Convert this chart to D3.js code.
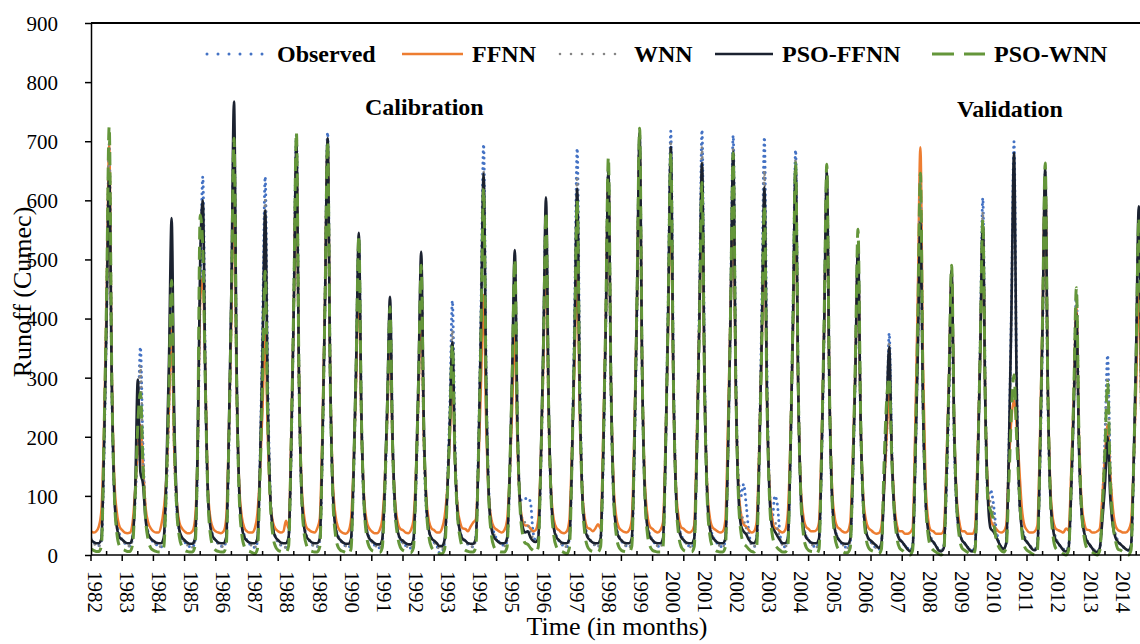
<!DOCTYPE html>
<meta charset="utf-8">
<style>
    body { margin: 0; background: #fff; }
    svg { display: block; }
    svg text { font-family: "Liberation Serif", "Times New Roman", "DejaVu Serif", serif; fill: #000; }
    .axis text { font-size: 21px; }
    .axis path, .axis line { stroke: #000; stroke-width: 1.5px; }
    .legend text, .note { font-size: 24px; font-weight: 700; }
</style>
<script src="https://d3js.org/d3.v7.min.js"></script>
<div id="chart"></div>
<script>

    // tick labels
    var yearLabels = ["1982","1983","1984","1985","1986","1987","1988","1989","1990","1991","1992",
        "1993","1994","1995","1996","1997","1998","1999","2000","2001","2002","2003","2004",
        "2005","2006","2007","2008","2009","2010","2011","2012","2013","2014"];
    var yTicks = [0, 100, 200, 300, 400, 500, 600, 700, 800, 900];

    // monthly runoff, one row per year (Jan..Dec), Jan 1982 - Sep 2015
    var observed = [
        [28,22,18,16,22,170,410,690,290,105,55,35],
        [26,20,16,15,30,95,200,352,180,70,38,27],
        [22,18,15,14,25,110,260,420,190,75,40,28],
        [22,17,14,13,24,160,450,640,300,100,50,32],
        [24,19,15,14,26,180,430,710,300,110,52,33],
        [25,19,15,13,22,160,390,640,290,100,48,30],
        [22,17,14,13,28,175,430,710,300,105,50,32],
        [24,18,15,14,24,180,430,715,310,110,52,33],
        [25,19,15,13,22,135,320,530,230,85,45,30],
        [22,17,14,12,22,105,250,420,185,70,38,27],
        [20,16,13,12,20,120,285,470,200,75,40,28],
        [21,16,4,6,22,110,250,430,185,72,40,28],
        [24,18,15,14,30,175,420,695,300,110,55,38],
        [28,22,18,16,24,120,290,480,220,95,92,95],
        [96,90,40,25,30,145,345,570,250,95,48,32],
        [24,18,15,14,28,170,410,688,300,105,52,34],
        [25,20,16,14,26,160,390,650,280,100,50,33],
        [24,18,15,13,25,175,420,705,305,110,52,34],
        [25,19,15,14,24,180,430,717,310,110,52,34],
        [25,19,15,13,26,180,430,719,310,110,52,34],
        [25,19,15,14,25,175,425,710,305,130,100,120],
        [85,40,18,14,25,175,420,707,305,110,60,100],
        [85,35,16,14,24,170,410,685,295,105,50,33],
        [25,19,15,13,24,160,385,640,280,100,48,32],
        [24,18,14,12,22,130,310,515,225,85,42,28],
        [22,16,12,10,20,120,200,375,180,75,40,28],
        [22,16,12,8,15,150,360,600,260,95,45,30],
        [22,15,10,8,15,110,270,450,195,75,40,26],
        [20,14,10,8,15,150,360,604,260,100,110,90],
        [50,25,14,10,20,175,420,699,300,105,50,32],
        [22,16,12,10,18,155,380,630,270,100,48,30],
        [20,14,10,8,15,110,265,440,190,75,40,26],
        [18,12,8,6,12,85,200,338,150,60,35,24],
        [18,14,10,8,15,140,330,550,240]
    ];

    var ffnn = [
        [40,38,40,48,75,210,430,695,310,125,70,48],
        [42,38,37,38,55,110,180,220,150,80,55,45],
        [40,38,38,50,78,130,250,390,180,90,55,45],
        [40,37,37,40,60,170,430,470,300,110,60,45],
        [40,38,37,40,62,200,400,640,290,120,65,46],
        [40,38,38,45,70,140,250,380,200,90,55,44],
        [40,38,40,58,45,200,420,670,300,120,65,46],
        [42,39,38,45,62,210,430,690,310,125,68,47],
        [40,37,36,40,60,150,300,480,220,100,58,45],
        [40,37,37,42,60,125,240,380,180,88,55,44],
        [42,38,37,42,58,140,275,440,200,95,57,45],
        [42,38,38,45,65,110,200,300,160,80,55,45],
        [44,40,48,55,60,150,290,440,220,100,60,47],
        [43,40,38,42,58,130,250,380,190,90,58,50],
        [50,45,40,42,60,160,330,520,240,105,60,46],
        [42,38,37,40,60,180,330,490,240,105,60,46],
        [44,40,45,52,45,200,400,640,290,120,65,47],
        [42,39,38,42,60,210,430,690,310,125,68,48],
        [44,40,38,42,55,190,390,620,280,115,64,47],
        [44,40,38,40,50,200,400,600,280,115,64,47],
        [43,40,38,40,60,220,420,600,280,118,70,52],
        [48,42,38,40,55,180,360,550,260,110,62,46],
        [44,40,38,42,70,190,380,600,280,115,65,48],
        [44,40,40,42,55,190,390,620,285,115,65,48],
        [44,40,38,40,55,160,320,500,230,100,60,46],
        [42,38,36,37,48,110,200,280,170,85,50,40],
        [40,36,36,38,45,210,440,690,320,120,60,42],
        [40,36,36,36,42,150,300,470,220,95,55,40],
        [40,36,36,36,45,170,340,540,250,105,60,50],
        [45,40,38,40,50,150,230,262,220,150,80,50],
        [42,38,38,40,50,200,410,640,290,115,60,45],
        [42,40,38,45,42,140,270,420,200,90,55,43],
        [42,38,38,40,45,100,170,220,140,80,50,42],
        [40,38,38,42,55,150,290,450,220]
    ];

    var wnn = [
        [25,20,16,15,22,175,420,700,295,105,52,34],
        [26,20,16,15,28,95,210,320,170,68,38,27],
        [23,18,15,14,25,110,265,430,190,75,40,28],
        [22,17,14,13,24,160,470,600,290,100,50,32],
        [24,19,15,14,26,180,425,700,300,110,52,33],
        [25,19,15,13,22,150,370,600,270,100,48,30],
        [22,17,14,13,26,175,425,700,300,105,50,32],
        [24,18,15,14,24,178,428,705,305,110,52,33],
        [25,19,15,13,22,132,315,520,228,85,45,30],
        [22,17,14,12,22,105,250,420,185,70,38,27],
        [20,16,13,12,20,122,290,480,205,76,40,28],
        [21,16,10,10,22,98,230,380,170,68,38,27],
        [24,18,15,14,28,165,395,650,285,105,52,36],
        [26,21,17,15,24,122,295,490,215,85,60,55],
        [50,40,28,22,28,148,350,580,250,95,48,32],
        [24,18,15,14,28,160,385,640,280,100,50,33],
        [25,20,16,14,26,165,400,660,285,102,50,33],
        [24,18,15,13,25,178,428,715,308,110,52,34],
        [25,19,15,14,24,175,420,700,300,108,52,34],
        [25,19,15,13,26,172,415,690,298,108,52,34],
        [25,19,15,14,25,172,415,690,298,115,70,60],
        [45,28,18,14,25,162,390,650,282,105,55,55],
        [45,28,16,14,24,168,400,670,290,104,50,33],
        [25,19,15,13,24,162,390,650,282,102,48,32],
        [24,18,14,12,22,132,318,530,230,86,42,28],
        [22,16,12,10,20,120,250,360,175,72,40,28],
        [22,16,12,8,15,160,385,640,275,100,46,30],
        [22,15,10,8,15,120,290,480,208,80,40,26],
        [20,14,10,8,15,145,350,580,250,95,90,70],
        [40,22,14,10,20,162,390,650,280,100,48,32],
        [22,16,12,10,18,162,390,650,280,102,48,30],
        [20,14,10,8,15,108,258,430,186,72,40,26],
        [18,12,8,6,12,78,180,300,135,56,34,24],
        [18,14,10,8,15,140,335,560,245]
    ];

    var psoFfnn = [
        [26,22,20,20,28,180,400,645,290,100,45,30],
        [26,22,20,20,30,110,297,140,120,60,35,28],
        [24,21,20,20,30,140,330,570,240,90,42,30],
        [25,21,19,19,28,180,500,600,290,100,45,30],
        [25,21,20,20,30,200,450,767,320,110,48,30],
        [24,21,20,20,28,150,350,583,260,95,44,30],
        [25,21,20,20,30,180,420,695,300,105,46,30],
        [25,21,20,20,28,185,425,705,305,108,47,30],
        [25,21,19,19,27,140,330,545,240,90,42,28],
        [24,20,18,18,26,115,265,437,195,78,40,27],
        [24,20,18,18,26,130,310,513,225,85,41,28],
        [24,20,15,15,26,100,220,360,165,70,38,27],
        [24,20,19,19,28,165,390,645,285,100,45,30],
        [25,21,20,20,28,130,310,516,225,88,48,38],
        [40,30,24,22,28,155,365,605,265,98,45,30],
        [25,21,20,20,28,160,375,620,270,100,45,30],
        [25,21,20,20,28,165,390,650,285,102,45,30],
        [25,21,20,20,28,180,430,715,310,108,47,30],
        [25,21,20,20,28,175,415,690,300,105,46,30],
        [25,21,20,20,28,170,400,663,290,102,46,30],
        [25,21,20,20,28,172,410,682,295,105,50,40],
        [35,26,21,20,28,160,375,622,270,100,48,40],
        [32,25,20,20,28,168,395,657,285,102,46,30],
        [25,21,20,20,28,165,390,650,283,100,45,30],
        [24,20,19,19,26,135,315,525,230,88,42,28],
        [24,20,16,12,20,110,240,352,170,72,38,26],
        [22,16,10,6,12,150,340,563,250,92,42,26],
        [22,15,8,6,12,125,290,482,215,82,40,25],
        [20,14,8,6,12,140,340,560,245,92,45,40],
        [32,22,14,10,20,170,410,680,295,105,45,28],
        [22,16,10,8,15,165,395,655,285,100,44,26],
        [20,14,8,6,12,108,250,409,180,72,38,24],
        [18,12,6,5,12,60,120,200,100,50,30,22],
        [18,14,10,8,15,150,355,590,260]
    ];

    var psoWnn = [
        [10,8,6,6,15,200,440,725,300,100,35,15],
        [10,8,6,6,18,100,220,275,150,60,25,12],
        [8,6,5,5,14,120,285,465,200,75,30,14],
        [8,6,5,5,15,180,575,520,280,95,32,14],
        [8,6,5,5,16,190,430,705,300,100,35,14],
        [8,6,4,2,10,130,300,480,220,85,32,14],
        [8,6,5,5,15,195,435,715,305,102,36,15],
        [8,6,5,5,14,190,425,700,300,100,35,14],
        [8,6,4,2,10,145,330,540,235,88,32,14],
        [8,6,4,4,12,112,255,420,185,72,30,13],
        [8,6,4,4,12,130,300,490,215,80,30,13],
        [8,6,2,2,10,95,215,355,160,65,28,12],
        [8,6,5,5,14,165,375,620,270,95,34,14],
        [8,6,5,5,13,135,305,500,220,82,35,20],
        [18,12,8,5,13,155,350,580,255,92,33,14],
        [8,6,4,2,12,160,365,600,262,95,34,14],
        [8,6,5,5,14,180,410,673,290,100,35,14],
        [8,6,5,5,15,195,440,722,310,105,36,15],
        [8,6,5,5,14,182,415,680,295,100,35,14],
        [8,6,5,5,14,170,385,630,275,95,34,14],
        [8,6,5,5,14,182,415,680,295,100,38,20],
        [15,10,6,5,13,158,360,590,258,92,35,18],
        [12,8,5,5,14,178,405,663,288,100,35,14],
        [8,6,5,2,10,178,405,661,288,98,34,14],
        [8,6,4,4,12,148,335,551,240,88,32,13],
        [8,6,4,2,10,150,260,300,160,70,28,12],
        [8,4,2,0,8,172,395,646,280,96,33,14],
        [8,5,2,0,8,130,300,490,215,80,30,12],
        [8,5,2,0,8,150,345,567,245,90,75,60],
        [30,15,8,5,12,120,240,305,200,110,40,15],
        [8,5,2,0,8,178,405,663,288,98,33,12],
        [8,5,2,0,8,120,275,452,198,76,30,12],
        [8,5,2,0,8,80,180,293,130,55,25,10],
        [8,5,2,0,8,150,345,570,250]
    ];

    var series = [
        {name: "Observed", values: observed.flat(), color: "#4472c4", width: 3, dash: "0 5.5", cap: "round"},
        {name: "FFNN", values: ffnn.flat(), color: "#ed7d31", width: 2.5, dash: null, cap: "butt"},
        {name: "WNN", values: wnn.flat(), color: "#858585", width: 2.6, dash: "0 5.5", cap: "round"},
        {name: "PSO-FFNN", values: psoFfnn.flat(), color: "#1b2230", width: 2.6, dash: null, cap: "butt"},
        {name: "PSO-WNN", values: psoWnn.flat(), color: "#64963a", width: 3, dash: "13 7", cap: "butt"}
    ];

    var W = 1140, H = 644;
    var svg = d3.select("#chart").append("svg")
        .attr("width", W)
        .attr("height", H);

    // one point per month, Jan 1982 at the axis
    var x = d3.scaleLinear().domain([0, 408]).range([91, 91 + 408 * 2.6]);
    var y = d3.scaleLinear().domain([0, 900]).range([555, 23]);
    var yearPos = d3.scalePoint().domain(yearLabels).range([95, 1123]);

    svg.append("defs").append("clipPath")
        .attr("id", "plot")
        .append("rect")
        .attr("x", 91).attr("y", 0)
        .attr("width", W - 91).attr("height", 557);

    var line = d3.line()
        .x(function(d, i) { return x(i); })
        .y(function(d) { return y(d); })
        .curve(d3.curveMonotoneX);

    svg.append("g")
        .attr("clip-path", "url(#plot)")
        .selectAll("path")
        .data(series)
        .enter()
        .append("path")
        .attr("fill", "none")
        .attr("stroke", function(d) { return d.color; })
        .attr("stroke-width", function(d) { return d.width; })
        .attr("stroke-dasharray", function(d) { return d.dash; })
        .attr("stroke-linecap", function(d) { return d.cap; })
        .attr("stroke-linejoin", "round")
        .attr("d", function(d) { return line(d.values); });

    // top frame line
    svg.append("line")
        .attr("x1", 91).attr("x2", W)
        .attr("y1", y(900)).attr("y2", y(900))
        .attr("stroke", "#000").attr("stroke-width", 2);

    // y axis
    var yAxis = svg.append("g")
        .attr("class", "axis")
        .attr("transform", "translate(91,0)")
        .call(d3.axisLeft(y).tickValues(yTicks).tickSize(6).tickSizeOuter(0).tickPadding(27));
    yAxis.attr("font-family", null).attr("font-size", null);
    yAxis.selectAll("text").attr("dy", "0.35em");

    // x axis: year ticks below, half-year ticks above
    var xAxis = svg.append("g").attr("class", "axis");
    xAxis.append("line")
        .attr("x1", 91).attr("x2", W)
        .attr("y1", y(0)).attr("y2", y(0))
        .attr("stroke", "#000").attr("stroke-width", 1.5);
    var yearStarts = yearLabels.map(function(d, i) { return i * 12; }).concat([yearLabels.length * 12]);
    xAxis.selectAll(".tk")
        .data(yearStarts)
        .enter().append("line")
        .attr("x1", function(d) { return x(d); })
        .attr("x2", function(d) { return x(d); })
        .attr("y1", y(0)).attr("y2", y(0) + 6);
    xAxis.selectAll(".mk")
        .data(yearStarts)
        .enter().append("line")
        .attr("x1", function(d) { return x(d + 6); })
        .attr("x2", function(d) { return x(d + 6); })
        .attr("y1", y(0) - 4).attr("y2", y(0));
    xAxis.selectAll(".lbl")
        .data(yearLabels)
        .enter().append("text")
        .attr("transform", function(d) { return "translate(" + yearPos(d) + ",571) rotate(90)"; })
        .attr("dy", "0.35em")
        .attr("text-anchor", "start")
        .text(function(d) { return d; });

    // axis titles
    svg.append("text")
        .attr("x", 617).attr("y", 635)
        .attr("text-anchor", "middle")
        .style("font-size", "26px")
        .text("Time (in months)");
    svg.append("text")
        .attr("transform", "translate(31,292) rotate(-90)")
        .attr("text-anchor", "middle")
        .style("font-size", "26px")
        .text("Runoff (Cumec)");

    // legend
    var legendX = [207, 402, 560, 715, 932];
    var legendLen = [61, 61, 65, 58, 53];
    var lg = svg.append("g").attr("class", "legend")
        .selectAll("g")
        .data(series)
        .enter().append("g");
    lg.append("line")
        .attr("x1", function(d, i) { return legendX[i]; })
        .attr("x2", function(d, i) { return legendX[i] + legendLen[i]; })
        .attr("y1", 54).attr("y2", 54)
        .attr("stroke", function(d) { return d.color; })
        .attr("stroke-width", function(d) { return d.width; })
        .attr("stroke-linecap", function(d) { return d.cap; })
        .attr("stroke-dasharray", function(d, i) {
            if (i === 4) return "22 10";
            return d.dash ? "0 11" : null;
        });
    lg.append("text")
        .attr("x", function(d, i) { return legendX[i] + legendLen[i] + 9; })
        .attr("y", 62)
        .text(function(d) { return d.name; });

    svg.append("text").attr("class", "note")
        .attr("x", 365).attr("y", 115)
        .text("Calibration");
    svg.append("text").attr("class", "note")
        .attr("x", 957).attr("y", 117)
        .text("Validation");

</script>
